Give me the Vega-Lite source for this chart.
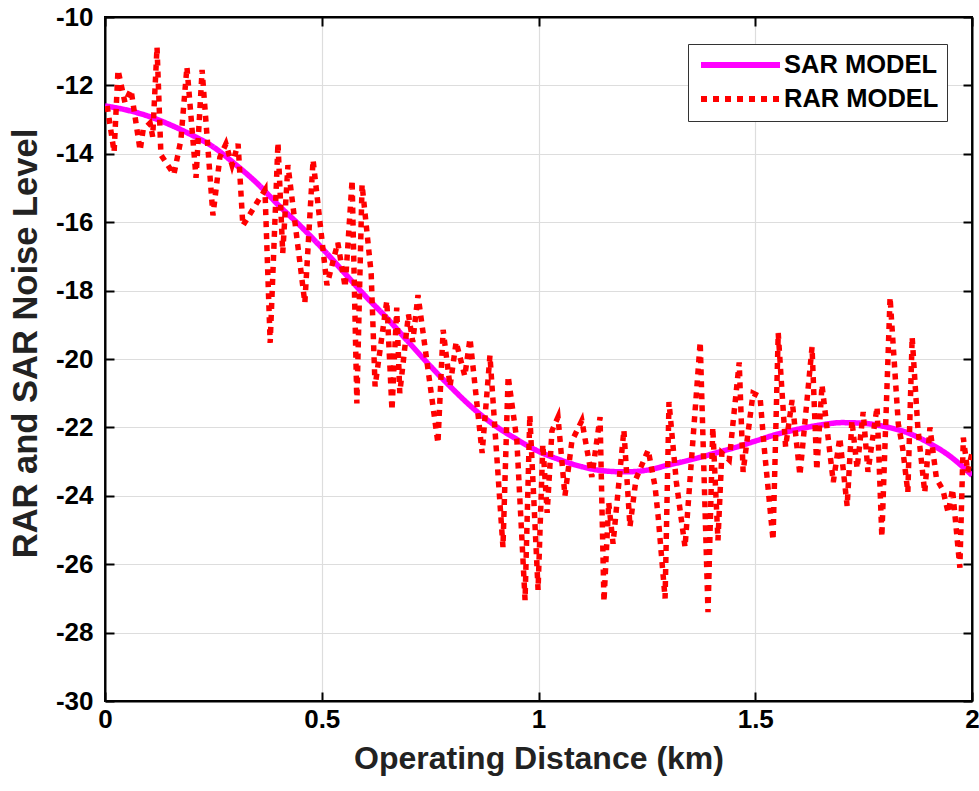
{
  "$schema": "https://vega.github.io/schema/vega-lite/v6.json",
  "width": 867,
  "height": 684,
  "autosize": {"type": "none"},
  "padding": {"left": 105, "top": 17, "right": 7, "bottom": 90},
  "background": "white",
  "config": {
    "view": {"stroke": "black", "strokeWidth": 2},
    "font": "Liberation Sans",
    "axis": {"gridColor": "#dddddd", "gridWidth": 1.2, "domainColor": "black", "domainWidth": 2, "tickColor": "black", "tickWidth": 2}
  },
  "datasets": {
    "sar": [
      {"distance": 0.0, "noise": -12.6, "model": "SAR MODEL"},
      {"distance": 0.05, "noise": -12.72, "model": "SAR MODEL"},
      {"distance": 0.1, "noise": -12.9, "model": "SAR MODEL"},
      {"distance": 0.15, "noise": -13.15, "model": "SAR MODEL"},
      {"distance": 0.2, "noise": -13.45, "model": "SAR MODEL"},
      {"distance": 0.25, "noise": -13.8, "model": "SAR MODEL"},
      {"distance": 0.3, "noise": -14.3, "model": "SAR MODEL"},
      {"distance": 0.35, "noise": -14.85, "model": "SAR MODEL"},
      {"distance": 0.4, "noise": -15.5, "model": "SAR MODEL"},
      {"distance": 0.45, "noise": -16.1, "model": "SAR MODEL"},
      {"distance": 0.5, "noise": -16.75, "model": "SAR MODEL"},
      {"distance": 0.55, "noise": -17.45, "model": "SAR MODEL"},
      {"distance": 0.6, "noise": -18.15, "model": "SAR MODEL"},
      {"distance": 0.65, "noise": -18.8, "model": "SAR MODEL"},
      {"distance": 0.7, "noise": -19.5, "model": "SAR MODEL"},
      {"distance": 0.75, "noise": -20.2, "model": "SAR MODEL"},
      {"distance": 0.8, "noise": -20.85, "model": "SAR MODEL"},
      {"distance": 0.85, "noise": -21.45, "model": "SAR MODEL"},
      {"distance": 0.9, "noise": -21.95, "model": "SAR MODEL"},
      {"distance": 0.95, "noise": -22.35, "model": "SAR MODEL"},
      {"distance": 1.0, "noise": -22.7, "model": "SAR MODEL"},
      {"distance": 1.05, "noise": -22.95, "model": "SAR MODEL"},
      {"distance": 1.1, "noise": -23.15, "model": "SAR MODEL"},
      {"distance": 1.15, "noise": -23.27, "model": "SAR MODEL"},
      {"distance": 1.2, "noise": -23.3, "model": "SAR MODEL"},
      {"distance": 1.25, "noise": -23.25, "model": "SAR MODEL"},
      {"distance": 1.3, "noise": -23.1, "model": "SAR MODEL"},
      {"distance": 1.35, "noise": -22.95, "model": "SAR MODEL"},
      {"distance": 1.4, "noise": -22.78, "model": "SAR MODEL"},
      {"distance": 1.45, "noise": -22.6, "model": "SAR MODEL"},
      {"distance": 1.5, "noise": -22.4, "model": "SAR MODEL"},
      {"distance": 1.55, "noise": -22.2, "model": "SAR MODEL"},
      {"distance": 1.6, "noise": -22.05, "model": "SAR MODEL"},
      {"distance": 1.65, "noise": -21.93, "model": "SAR MODEL"},
      {"distance": 1.7, "noise": -21.86, "model": "SAR MODEL"},
      {"distance": 1.75, "noise": -21.88, "model": "SAR MODEL"},
      {"distance": 1.8, "noise": -21.98, "model": "SAR MODEL"},
      {"distance": 1.85, "noise": -22.15, "model": "SAR MODEL"},
      {"distance": 1.9, "noise": -22.45, "model": "SAR MODEL"},
      {"distance": 1.95, "noise": -22.85, "model": "SAR MODEL"},
      {"distance": 2.0, "noise": -23.4, "model": "SAR MODEL"}
    ],
    "rar": [
      {"distance": 0.005, "noise": -12.6, "model": "RAR MODEL"},
      {"distance": 0.021, "noise": -13.95, "model": "RAR MODEL"},
      {"distance": 0.03, "noise": -11.55, "model": "RAR MODEL"},
      {"distance": 0.046, "noise": -12.5, "model": "RAR MODEL"},
      {"distance": 0.06, "noise": -12.13, "model": "RAR MODEL"},
      {"distance": 0.081, "noise": -13.9, "model": "RAR MODEL"},
      {"distance": 0.088, "noise": -13.3, "model": "RAR MODEL"},
      {"distance": 0.104, "noise": -13.1, "model": "RAR MODEL"},
      {"distance": 0.11, "noise": -13.5, "model": "RAR MODEL"},
      {"distance": 0.12, "noise": -10.88, "model": "RAR MODEL"},
      {"distance": 0.129, "noise": -14.03, "model": "RAR MODEL"},
      {"distance": 0.159, "noise": -14.6, "model": "RAR MODEL"},
      {"distance": 0.175, "noise": -13.6, "model": "RAR MODEL"},
      {"distance": 0.189, "noise": -11.46, "model": "RAR MODEL"},
      {"distance": 0.21, "noise": -14.7, "model": "RAR MODEL"},
      {"distance": 0.224, "noise": -11.55, "model": "RAR MODEL"},
      {"distance": 0.249, "noise": -15.8, "model": "RAR MODEL"},
      {"distance": 0.265, "noise": -14.1, "model": "RAR MODEL"},
      {"distance": 0.279, "noise": -13.71, "model": "RAR MODEL"},
      {"distance": 0.293, "noise": -14.33, "model": "RAR MODEL"},
      {"distance": 0.307, "noise": -13.71, "model": "RAR MODEL"},
      {"distance": 0.318, "noise": -16.1, "model": "RAR MODEL"},
      {"distance": 0.35, "noise": -15.44, "model": "RAR MODEL"},
      {"distance": 0.369, "noise": -15.06, "model": "RAR MODEL"},
      {"distance": 0.381, "noise": -19.53, "model": "RAR MODEL"},
      {"distance": 0.399, "noise": -13.68, "model": "RAR MODEL"},
      {"distance": 0.41, "noise": -16.9, "model": "RAR MODEL"},
      {"distance": 0.422, "noise": -14.33, "model": "RAR MODEL"},
      {"distance": 0.461, "noise": -18.36, "model": "RAR MODEL"},
      {"distance": 0.48, "noise": -14.18, "model": "RAR MODEL"},
      {"distance": 0.512, "noise": -17.84, "model": "RAR MODEL"},
      {"distance": 0.537, "noise": -16.6, "model": "RAR MODEL"},
      {"distance": 0.554, "noise": -17.9, "model": "RAR MODEL"},
      {"distance": 0.57, "noise": -14.77, "model": "RAR MODEL"},
      {"distance": 0.581, "noise": -21.3, "model": "RAR MODEL"},
      {"distance": 0.593, "noise": -14.9, "model": "RAR MODEL"},
      {"distance": 0.614, "noise": -17.5, "model": "RAR MODEL"},
      {"distance": 0.623, "noise": -20.8, "model": "RAR MODEL"},
      {"distance": 0.65, "noise": -18.3, "model": "RAR MODEL"},
      {"distance": 0.662, "noise": -21.5, "model": "RAR MODEL"},
      {"distance": 0.673, "noise": -18.5, "model": "RAR MODEL"},
      {"distance": 0.68, "noise": -21.0, "model": "RAR MODEL"},
      {"distance": 0.7, "noise": -18.7, "model": "RAR MODEL"},
      {"distance": 0.71, "noise": -19.5, "model": "RAR MODEL"},
      {"distance": 0.722, "noise": -18.13, "model": "RAR MODEL"},
      {"distance": 0.768, "noise": -22.46, "model": "RAR MODEL"},
      {"distance": 0.78, "noise": -19.15, "model": "RAR MODEL"},
      {"distance": 0.796, "noise": -20.8, "model": "RAR MODEL"},
      {"distance": 0.81, "noise": -19.5, "model": "RAR MODEL"},
      {"distance": 0.83, "noise": -20.5, "model": "RAR MODEL"},
      {"distance": 0.842, "noise": -19.4, "model": "RAR MODEL"},
      {"distance": 0.87, "noise": -22.75, "model": "RAR MODEL"},
      {"distance": 0.888, "noise": -19.9, "model": "RAR MODEL"},
      {"distance": 0.918, "noise": -25.5, "model": "RAR MODEL"},
      {"distance": 0.93, "noise": -20.5, "model": "RAR MODEL"},
      {"distance": 0.95, "noise": -22.37, "model": "RAR MODEL"},
      {"distance": 0.969, "noise": -27.05, "model": "RAR MODEL"},
      {"distance": 0.98, "noise": -21.64, "model": "RAR MODEL"},
      {"distance": 0.999, "noise": -26.75, "model": "RAR MODEL"},
      {"distance": 1.01, "noise": -22.5, "model": "RAR MODEL"},
      {"distance": 1.02, "noise": -24.5, "model": "RAR MODEL"},
      {"distance": 1.031, "noise": -22.1, "model": "RAR MODEL"},
      {"distance": 1.045, "noise": -21.7, "model": "RAR MODEL"},
      {"distance": 1.061, "noise": -24.0, "model": "RAR MODEL"},
      {"distance": 1.077, "noise": -22.4, "model": "RAR MODEL"},
      {"distance": 1.1, "noise": -21.8, "model": "RAR MODEL"},
      {"distance": 1.123, "noise": -23.45, "model": "RAR MODEL"},
      {"distance": 1.142, "noise": -21.7, "model": "RAR MODEL"},
      {"distance": 1.151, "noise": -27.1, "model": "RAR MODEL"},
      {"distance": 1.162, "noise": -24.2, "model": "RAR MODEL"},
      {"distance": 1.172, "noise": -25.4, "model": "RAR MODEL"},
      {"distance": 1.197, "noise": -22.08, "model": "RAR MODEL"},
      {"distance": 1.211, "noise": -24.9, "model": "RAR MODEL"},
      {"distance": 1.225, "noise": -23.5, "model": "RAR MODEL"},
      {"distance": 1.253, "noise": -22.66, "model": "RAR MODEL"},
      {"distance": 1.269, "noise": -23.74, "model": "RAR MODEL"},
      {"distance": 1.276, "noise": -24.6, "model": "RAR MODEL"},
      {"distance": 1.292, "noise": -27.0, "model": "RAR MODEL"},
      {"distance": 1.301, "noise": -21.26, "model": "RAR MODEL"},
      {"distance": 1.318, "noise": -23.6, "model": "RAR MODEL"},
      {"distance": 1.338, "noise": -25.5, "model": "RAR MODEL"},
      {"distance": 1.373, "noise": -19.5, "model": "RAR MODEL"},
      {"distance": 1.391, "noise": -27.4, "model": "RAR MODEL"},
      {"distance": 1.402, "noise": -22.0, "model": "RAR MODEL"},
      {"distance": 1.414, "noise": -25.3, "model": "RAR MODEL"},
      {"distance": 1.423, "noise": -22.75, "model": "RAR MODEL"},
      {"distance": 1.44, "noise": -22.95, "model": "RAR MODEL"},
      {"distance": 1.463, "noise": -20.1, "model": "RAR MODEL"},
      {"distance": 1.472, "noise": -23.3, "model": "RAR MODEL"},
      {"distance": 1.495, "noise": -21.0, "model": "RAR MODEL"},
      {"distance": 1.511, "noise": -21.1, "model": "RAR MODEL"},
      {"distance": 1.52, "noise": -22.5, "model": "RAR MODEL"},
      {"distance": 1.541, "noise": -25.3, "model": "RAR MODEL"},
      {"distance": 1.553, "noise": -19.24, "model": "RAR MODEL"},
      {"distance": 1.57, "noise": -22.57, "model": "RAR MODEL"},
      {"distance": 1.585, "noise": -21.2, "model": "RAR MODEL"},
      {"distance": 1.603, "noise": -23.4, "model": "RAR MODEL"},
      {"distance": 1.631, "noise": -19.65, "model": "RAR MODEL"},
      {"distance": 1.642, "noise": -23.25, "model": "RAR MODEL"},
      {"distance": 1.654, "noise": -20.76, "model": "RAR MODEL"},
      {"distance": 1.68, "noise": -23.6, "model": "RAR MODEL"},
      {"distance": 1.695, "noise": -22.3, "model": "RAR MODEL"},
      {"distance": 1.712, "noise": -24.3, "model": "RAR MODEL"},
      {"distance": 1.723, "noise": -21.8, "model": "RAR MODEL"},
      {"distance": 1.735, "noise": -23.2, "model": "RAR MODEL"},
      {"distance": 1.749, "noise": -21.55, "model": "RAR MODEL"},
      {"distance": 1.76, "noise": -23.3, "model": "RAR MODEL"},
      {"distance": 1.781, "noise": -21.4, "model": "RAR MODEL"},
      {"distance": 1.792, "noise": -25.2, "model": "RAR MODEL"},
      {"distance": 1.811, "noise": -18.2, "model": "RAR MODEL"},
      {"distance": 1.83, "noise": -21.9, "model": "RAR MODEL"},
      {"distance": 1.84, "noise": -22.6, "model": "RAR MODEL"},
      {"distance": 1.852, "noise": -23.9, "model": "RAR MODEL"},
      {"distance": 1.862, "noise": -19.36, "model": "RAR MODEL"},
      {"distance": 1.875, "noise": -22.0, "model": "RAR MODEL"},
      {"distance": 1.891, "noise": -23.9, "model": "RAR MODEL"},
      {"distance": 1.903, "noise": -22.0, "model": "RAR MODEL"},
      {"distance": 1.918, "noise": -23.5, "model": "RAR MODEL"},
      {"distance": 1.933, "noise": -23.83, "model": "RAR MODEL"},
      {"distance": 1.945, "noise": -24.5, "model": "RAR MODEL"},
      {"distance": 1.955, "noise": -23.8, "model": "RAR MODEL"},
      {"distance": 1.972, "noise": -26.1, "model": "RAR MODEL"},
      {"distance": 1.98, "noise": -22.3, "model": "RAR MODEL"},
      {"distance": 1.99, "noise": -23.3, "model": "RAR MODEL"},
      {"distance": 2.0, "noise": -22.75, "model": "RAR MODEL"}
    ]
  },
  "layer": [
    {
      "data": {"name": "sar"},
      "mark": {"type": "line", "strokeWidth": 5.5, "interpolate": "monotone", "clip": true},
      "encoding": {
        "x": {
          "field": "distance", "type": "quantitative",
          "scale": {"domain": [0, 2], "nice": false},
          "axis": {"orient": "bottom", "values": [0, 0.5, 1, 1.5, 2], "format": "~g", "grid": true, "tickSize": -9,
                   "labelFontSize": 26, "labelFontWeight": "bold", "labelColor": "black", "labelPadding": 14, "labelFlush": false,
                   "title": "Operating Distance (km)", "titleFontSize": 32, "titleFontWeight": "bold", "titleColor": "#222", "titlePadding": 11}
        },
        "y": {
          "field": "noise", "type": "quantitative",
          "scale": {"domain": [-30, -10], "nice": false},
          "axis": {"orient": "left", "values": [-30, -28, -26, -24, -22, -20, -18, -16, -14, -12, -10], "grid": true, "tickSize": -9,
                   "labelExpr": "'-' + abs(datum.value)",
                   "labelFontSize": 26, "labelFontWeight": "bold", "labelColor": "black", "labelPadding": 21,
                   "title": "RAR and SAR Noise Level", "titleFontSize": 34.5, "titleFontWeight": "bold", "titleColor": "#222", "titlePadding": 12, "titleY": 326}
        },
        "color": {
          "field": "model", "type": "nominal",
          "scale": {"domain": ["SAR MODEL", "RAR MODEL"], "range": ["#FF00FF", "#FF0000"]},
          "legend": {"orient": "none", "legendX": 583, "legendY": 27, "title": null, "symbolType": "M-0.8,0H7.1", "symbolSize": 400,
                     "symbolStrokeWidth": 6, "labelFontSize": 25.5, "labelFontWeight": "bold", "labelColor": "black", "labelOffset": 62,
                     "strokeColor": "#333", "fillColor": "white", "padding": 8, "rowPadding": 7}
        },
        "strokeDash": {
          "field": "model", "type": "nominal",
          "scale": {"domain": ["SAR MODEL", "RAR MODEL"], "range": [[1, 0], [6, 6]]}
        }
      }
    },
    {
      "data": {"name": "rar"},
      "mark": {"type": "line", "strokeWidth": 5.5, "strokeCap": "butt", "clip": true},
      "encoding": {
        "x": {
          "field": "distance", "type": "quantitative",
          "scale": {"domain": [0, 2], "nice": false},
          "axis": {"orient": "top", "values": [0, 0.5, 1, 1.5, 2], "grid": false, "labels": false, "title": null, "tickSize": -9}
        },
        "y": {
          "field": "noise", "type": "quantitative",
          "scale": {"domain": [-30, -10], "nice": false},
          "axis": {"orient": "right", "values": [-30, -28, -26, -24, -22, -20, -18, -16, -14, -12, -10], "grid": false, "labels": false, "title": null, "tickSize": -9}
        },
        "color": {"field": "model", "type": "nominal"},
        "strokeDash": {"field": "model", "type": "nominal"}
      }
    }
  ],
  "resolve": {"axis": {"x": "independent", "y": "independent"}}
}
